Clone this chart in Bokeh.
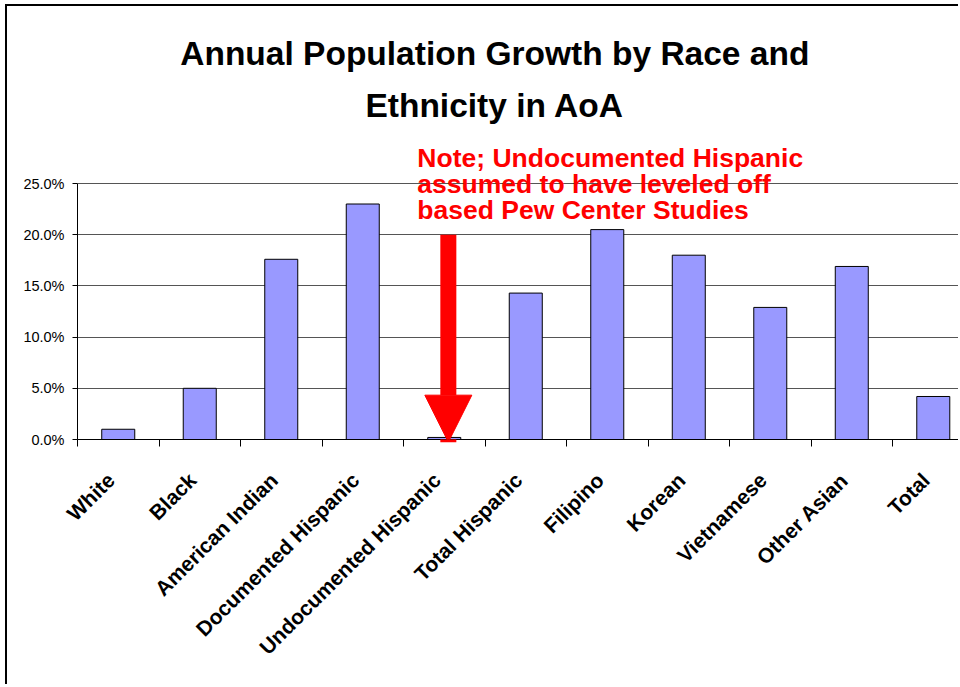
from bokeh.plotting import figure
from bokeh.models import (Range1d, FixedTicker, PrintfTickFormatter, Label, Arrow, NormalHead)
from bokeh.embed import file_html
from bokeh.resources import INLINE

# ---- data ----
categories = ["White", "Black", "American Indian", "Documented Hispanic",
              "Undocumented Hispanic", "Total Hispanic", "Filipino", "Korean",
              "Vietnamese", "Other Asian", "Total"]
growth_pct = [1.0, 5.0, 17.6, 23.0, 0.2, 14.3, 20.5, 18.0, 12.9, 16.9, 4.2]
y_ticks = [0, 5, 10, 15, 20, 25]
title_lines = ["Annual Population Growth by Race and", "Ethnicity in AoA"]
note_lines = ["Note; Undocumented Hispanic", "assumed to have leveled off",
              "based Pew Center Studies"]

centers = [i + 0.5 for i in range(len(categories))]
label_pos = [c - 0.09 for c in centers]
bounds = [float(i) for i in range(len(categories))]

FONT = "Liberation Sans"

p = figure(width=953, height=680, output_backend="svg", toolbar_location=None,
           x_range=Range1d(0, 10.834), y_range=Range1d(0, 42.29),
           min_border_left=70, min_border_right=0, min_border_top=0,
           min_border_bottom=247, outline_line_color=None,
           background_fill_color="white", border_fill_color="white")
p.styles = {"border-left": "2px solid black", "border-top": "2px solid black",
            "margin-left": "5px", "margin-top": "4px"}

p.vbar(x=centers, top=growth_pct, width=0.405, fill_color="#9999FF",
       line_color="black", line_width=1)

# x axis
xa = p.xaxis[0]
xa.ticker = FixedTicker(ticks=label_pos, minor_ticks=bounds)
xa.major_label_overrides = {c: n for c, n in zip(label_pos, categories)}
xa.major_tick_line_color = None
xa.major_tick_out = 0
xa.major_tick_in = 0
xa.minor_tick_line_color = "black"
xa.minor_tick_out = 7
xa.minor_tick_in = 0
xa.axis_line_color = "black"
xa.major_label_orientation = 0.785398
xa.major_label_text_font = FONT
xa.major_label_text_font_style = "bold"
xa.major_label_text_font_size = "21px"
xa.major_label_text_color = "black"
xa.major_label_standoff = 30

# y axis
ya = p.yaxis[0]
ya.ticker = FixedTicker(ticks=y_ticks, minor_ticks=[])
ya.formatter = PrintfTickFormatter(format="%.1f%%")
ya.bounds = (0, 25)
ya.major_tick_out = 5
ya.major_tick_in = 0
ya.axis_line_color = "black"
ya.major_tick_line_color = "black"
ya.major_label_text_font = FONT
ya.major_label_text_font_size = "14.5px"
ya.major_label_text_color = "black"
ya.major_label_standoff = 8

p.xgrid.visible = False
p.ygrid.grid_line_color = "#555555"
p.ygrid.grid_line_width = 1

# title
for txt, yy in zip(title_lines, [37.70, 32.62]):
    p.add_layout(Label(x=5.12, y=yy, text=txt, text_align="center",
                       text_baseline="alphabetic", text_font=FONT,
                       text_font_style="bold", text_font_size="33.5px",
                       text_color="black"))

# note
for txt, yy in zip(note_lines, [27.49, 24.96, 22.42]):
    p.add_layout(Label(x=4.17, y=yy, text=txt, text_align="left",
                       text_baseline="alphabetic", text_font=FONT,
                       text_font_style="bold", text_font_size="26.5px",
                       text_color="#FF0000"))

# arrow
p.add_layout(Arrow(end=NormalHead(size=47, fill_color="#FF0000", line_color="#FF0000"),
                   x_start=4.55, y_start=20, x_end=4.55, y_end=-0.26,
                   line_color="#FF0000", line_width=16))

open("out.html", "w").write(file_html(p, INLINE))
